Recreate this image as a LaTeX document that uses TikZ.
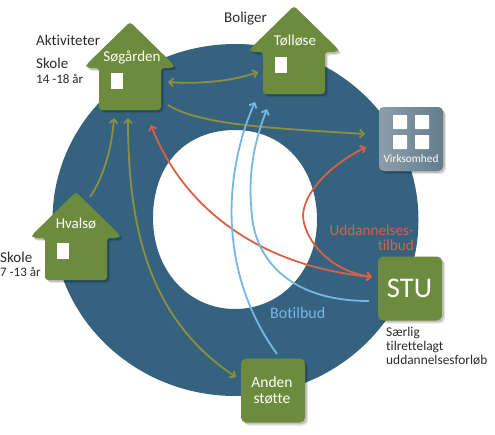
\documentclass[tikz,border=0pt]{standalone}
\usepackage{fontspec}
\setmainfont[Ligatures=NoCommon]{Carlito}
\usetikzlibrary{arrows.meta}
\definecolor{ringblue}{HTML}{35637F}
\definecolor{housegreen}{HTML}{6C8B3C}
\definecolor{olivearrow}{HTML}{8C8F3C}
\definecolor{redarrow}{HTML}{DB5F45}
\definecolor{bluearrow}{HTML}{77B6E6}
\definecolor{txt}{HTML}{2A2A2A}
\tikzset{
  softshadow/.style={
    preaction={fill=black,fill opacity=.10,transform canvas={xshift=3pt,yshift=-3pt}},
    preaction={fill=black,fill opacity=.16,transform canvas={xshift=1.8pt,yshift=-1.8pt}}},
  housepath/.style={fill=housegreen,rounded corners=3pt,softshadow},
  housebody/.style={minimum width=62pt,minimum height=42pt,inner sep=0pt},
  squarebox/.style={minimum width=64pt,minimum height=64pt,inner sep=0pt,rounded corners=5pt,softshadow,fill=housegreen},
  win/.style={fill=white},
  inlabel/.style={text=white,font=\fontsize{15}{15}\selectfont,inner sep=0pt},
  outlabel/.style={text=txt,font=\fontsize{15}{15}\selectfont,anchor=west,inner sep=0pt},
  smalllabel/.style={text=txt,font=\fontsize{13}{13}\selectfont,anchor=west,inner sep=0pt},
  conn/.style={line width=1.8pt,{Straight Barb[length=4pt,width=8pt]}-{Straight Barb[length=4pt,width=8pt]}},
  connend/.style={line width=1.8pt,-{Straight Barb[length=4pt,width=8pt]}},
}
\newcommand{\drawhouse}[3]{% name, apex x, apex y
  \path[housepath] (#2,#3) -- (#2+44,#3+43) -- (#2+43,#3+46) -- (#2+31,#3+46) -- (#2+31,#3+88)
     -- (#2-31,#3+88) -- (#2-31,#3+46) -- (#2-43,#3+46) -- (#2-44,#3+43) -- cycle;
  \node[housebody] (#1) at (#2,#3+67) {};
  \fill[win] (#2-19,#3+51) rectangle (#2-7,#3+67);
}
\begin{document}
\begin{tikzpicture}[x=1pt,y=-1pt]
\useasboundingbox (0,0) rectangle (495,434);
% ring
\fill[ringblue,even odd rule] (235.5,220) ellipse [x radius=183,y radius=176]
  (317,220) .. controls (317,270) and (282,309) .. (235,309)
  .. controls (188,309) and (153,270) .. (153,218)
  .. controls (153,164) and (186,130) .. (235,130)
  .. controls (284,130) and (317,168) .. (317,220) -- cycle;
% houses
\drawhouse{soeg}{130}{22}
\drawhouse{toll}{294}{6}
\drawhouse{hval}{76}{192}
% boxes
\node[squarebox,left color={rgb,255:red,140;green,158;blue,170},right color={rgb,255:red,100;green,125;blue,141}] (virk) at (411,139) {};
\node[squarebox] (stu) at (410,288.5) {};
\node[squarebox] (anden) at (273,390.5) {};
\foreach \dx/\dy in {-11/-17,11/-17,-11/3,11/3}
  \fill[white,rounded corners=.6pt] ([shift={(\dx-7,\dy-7)}]virk.center) rectangle ([shift={(\dx+7,\dy+7)}]virk.center);
% connectors
\draw[connend,olivearrow] ([shift={(14,-62)}]hval.center) .. controls (105,175) and (112,145) .. ([shift={(-16,29)}]soeg.center);
\draw[conn,olivearrow] ([shift={(-2,29)}]soeg.center) .. controls (128,230) and (150,320) .. ([shift={(-37,-13.5)}]anden.center);
\draw[conn,olivearrow] ([shift={(38,-7)}]soeg.center) .. controls (195,84) and (230,82) .. ([shift={(-36,-1)}]toll.center);
\draw[connend,olivearrow] ([shift={(38,16)}]soeg.center) .. controls (200,125) and (270,128) .. ([shift={(-46,-5)}]virk.center);
\draw[conn,redarrow] ([shift={(21,36)}]soeg.center) .. controls (180,200) and (250,265) .. ([shift={(-38,-11.5)}]stu.center);
\draw[conn,redarrow] ([shift={(-45,8)}]virk.center) .. controls (325,168) and (304,195) .. (303,215) .. controls (303,235) and (325,270) .. ([shift={(-38,-11.5)}]stu.center);
\draw[conn,bluearrow,{Straight Barb[length=4pt,width=8pt]}-] ([shift={(-39,29)}]toll.center) .. controls (225,170) and (216,270) .. ([shift={(4,-36.5)}]anden.center);
\draw[conn,bluearrow,{Straight Barb[length=4pt,width=8pt]}-] ([shift={(-27,36)}]toll.center) .. controls (247,160) and (250,195) .. (252,217) .. controls (256,255) and (285,301) .. ([shift={(-41,12.5)}]stu.center);
% labels in shapes
\node[inlabel] (lsoeg) at (132,57) {Søgården};
\node[inlabel] (ltoll) at (295,41) {Tølløse};
\node[inlabel] (lhval) at (76,224) {Hvalsø};
\node[inlabel,font=\fontsize{11.3}{11.3}\selectfont] (lvirk) at (411,159) {Virksomhed};
\node[inlabel,font=\fontsize{28.5}{28.5}\selectfont] (lstu) at (409.5,288) {STU};
\node[inlabel,align=center,font=\fontsize{15.5}{16}\selectfont] (landen) at (272,390) {Anden\\støtte};
% outer labels
\node[outlabel] (akt) at (36,40) {Aktiviteter};
\node[outlabel] (sk1) at (36,63) {Skole};
\node[smalllabel] (age1) at (36,79) {14 -18 år};
\node[outlabel] (bol) at (224,19) {Boliger};
\node[outlabel] (sk2) at (0,257) {Skole};
\node[smalllabel] (age2) at (0,272) {7 -13 år};
\node[text=redarrow,font=\fontsize{15.2}{14.5}\selectfont,align=right,anchor=east,inner sep=0pt] (udd) at (414,238) {Uddannelses-\\tilbud};
\node[text=bluearrow,font=\fontsize{16}{16}\selectfont,anchor=west,inner sep=0pt] (bot) at (270,313) {Botilbud};
\node[smalllabel,align=left,font=\fontsize{13.4}{14}\selectfont] (saer) at (386,346) {Særlig\\tilrettelagt\\uddannelsesforløb};
\end{tikzpicture}
\end{document}
